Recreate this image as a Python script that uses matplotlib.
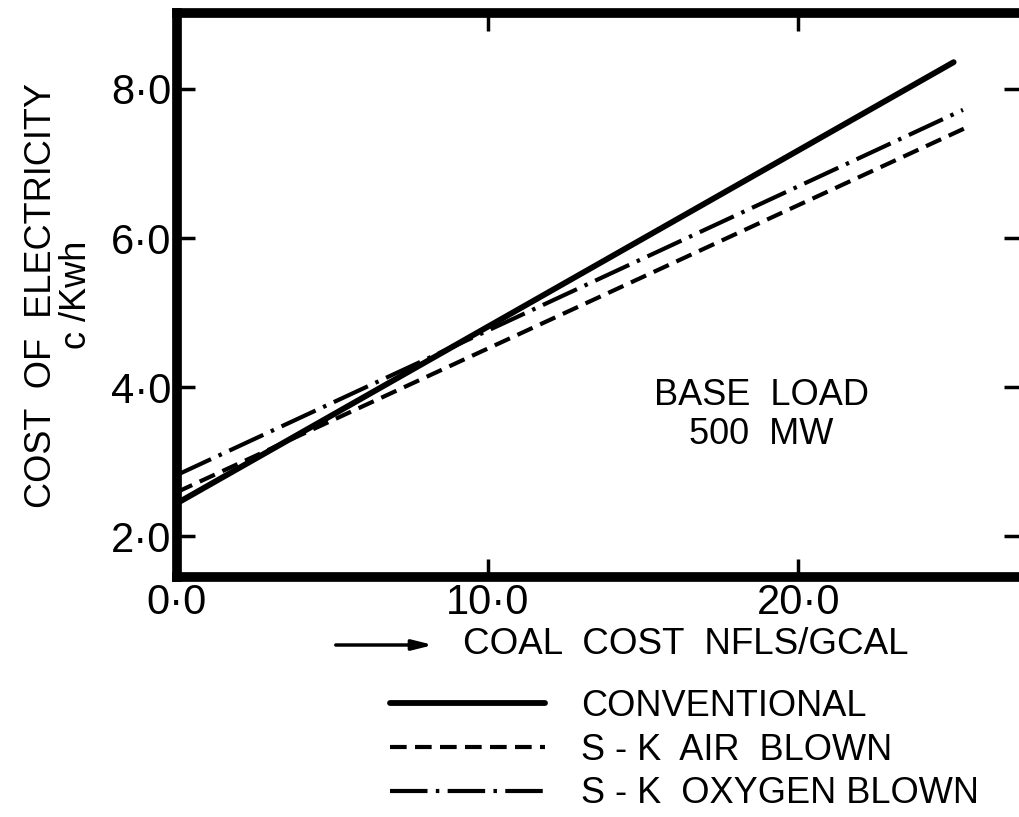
import numpy as np
import matplotlib
matplotlib.use("Agg")
import matplotlib.pyplot as plt

plt.rcParams['font.family'] = ['Liberation Sans', 'DejaVu Sans']
plt.rcParams['lines.scale_dashes'] = False

# data (coal cost NFLS/GCAL, cost of electricity c/Kwh)
conv_x = [0.0, 25.0]
conv_y = [2.44, 8.36]
air_x = [0.0, 25.5]
air_y = [2.59, 7.50]
oxy_x = [0.0, 25.3]
oxy_y = [2.82, 7.72]

x_ticks = [0, 10, 20]
y_ticks = [2, 4, 6, 8]
x_labels = ['0·0', '10·0', '20·0']
y_labels = ['2·0', '4·0', '6·0', '8·0']

series_names = ['CONVENTIONAL', 'S - K  AIR  BLOWN', 'S - K  OXYGEN BLOWN']

dash_style = (0, (12, 6))
dashdot_style = (0, (27, 6, 2.5, 6))

fig = plt.figure(figsize=(10.2, 8.17), dpi=100)
ax = fig.add_axes([177 / 1020, 1 - 577 / 817, (1022 - 177) / 1020, (577 - 13) / 817])

l1, = ax.plot(conv_x, conv_y, color='black', lw=4.2, solid_capstyle='round')
l2, = ax.plot(air_x, air_y, color='black', lw=3.0, linestyle=dash_style)
l3, = ax.plot(oxy_x, oxy_y, color='black', lw=3.0, linestyle=dashdot_style)

ax.set_xlim(0, 27.2)
ax.set_ylim(1.45, 9.02)

for s in ax.spines.values():
    s.set_linewidth(7)
ax.set_xticks(x_ticks)
ax.set_xticklabels(x_labels)
ax.set_yticks(y_ticks)
ax.set_yticklabels(y_labels)
ax.tick_params(direction='in', length=13, width=2.5, top=True, right=True,
               labelsize=30, pad=4)

ax.set_ylabel('COST  OF  ELECTRICITY\nc /Kwh', fontsize=26, linespacing=1.0,
              labelpad=12)

ax.text(18.8, 3.62, 'BASE  LOAD\n500  MW', fontsize=26, ha='center',
        va='center', linespacing=1.15)

# x axis title with arrow
fig.text(463 / 1020, 1 - 644 / 817, 'COAL  COST  NFLS/GCAL', fontsize=26.5,
         ha='left', va='center')
ax.annotate('', xy=(436 / 1020, 1 - 645 / 817), xytext=(333 / 1020, 1 - 645 / 817),
            xycoords='figure fraction', textcoords='figure fraction',
            arrowprops=dict(arrowstyle='-|>,head_length=1.2,head_width=0.3',
                            color='black', lw=2.5))

fig.legend([l1, l2, l3], series_names, loc='upper left',
           bbox_to_anchor=(390 / 1020, 1 - 689 / 817), frameon=False,
           fontsize=26, handlelength=4.3, handletextpad=1.0,
           labelspacing=0.24, borderpad=0, borderaxespad=0)

fig.savefig('out.png', dpi=100)
